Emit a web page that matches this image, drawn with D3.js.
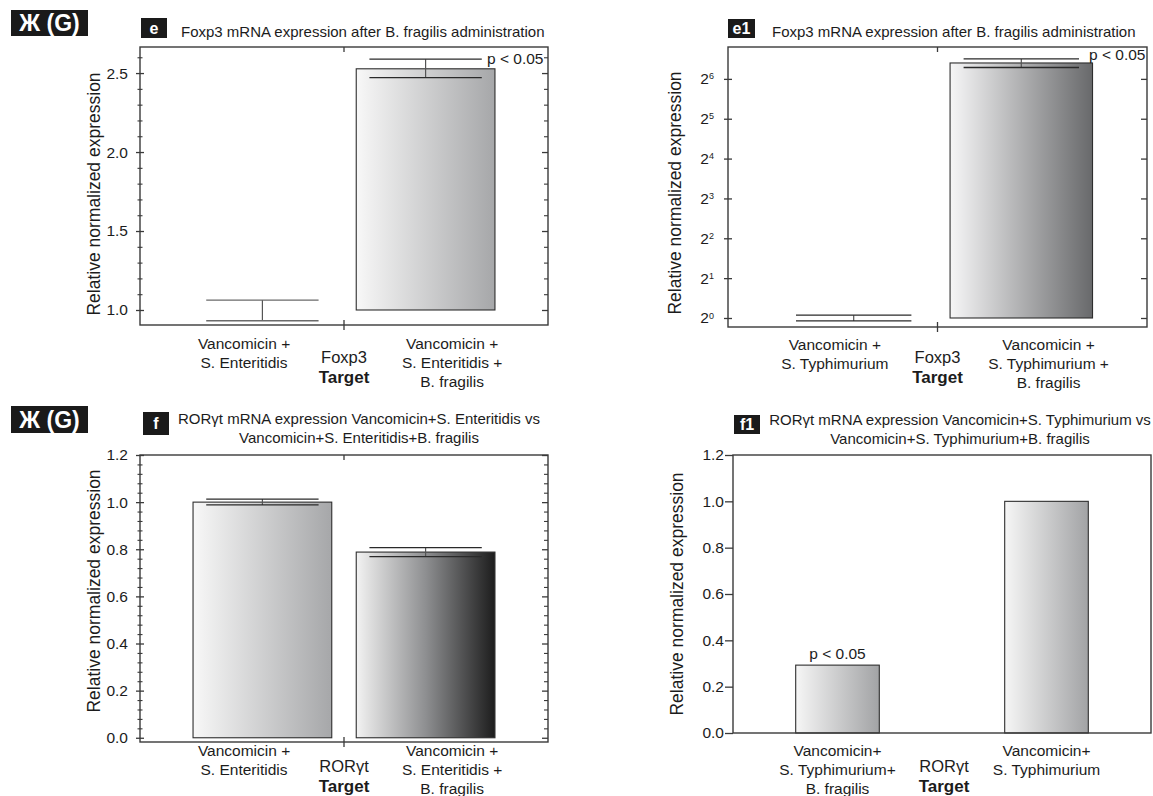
<!DOCTYPE html>
<html><head><meta charset="utf-8">
<script src="https://cdn.jsdelivr.net/npm/d3@7"></script>
<style>
body{margin:0;background:#fff}
svg{display:block;font-family:"Liberation Sans",Arial,Helvetica,sans-serif}
</style>
</head><body>
<svg id="chart" width="1153" height="796"></svg>
<script>
// ---------------- data ----------------
const eCategories = ["Vancomicin + S. Enteritidis", "Vancomicin + S. Enteritidis + B. fragilis"];
const eLabelLines = [["Vancomicin +", "S. Enteritidis"], ["Vancomicin +", "S. Enteritidis +", "B. fragilis"]];
const eValues = [1.0, 2.527];
const eErrLow = [0.932, 2.471];
const eErrHigh = [1.063, 2.588];
const eTicks = [1.0, 1.5, 2.0, 2.5];
const eTickLabels = ["1.0", "1.5", "2.0", "2.5"];
const eTitle = ["Foxp3 mRNA expression after B. fragilis administration"];

const e1Categories = ["Vancomicin + S. Typhimurium", "Vancomicin + S. Typhimurium + B. fragilis"];
const e1LabelLines = [["Vancomicin +", "S. Typhimurium"], ["Vancomicin +", "S. Typhimurium +", "B. fragilis"]];
const e1Values = [1.0, 84.4];
const e1ErrLow = [0.95, 78.0];
const e1ErrHigh = [1.05, 90.5];
const e1TickExponents = [0, 1, 2, 3, 4, 5, 6];
const e1Title = ["Foxp3 mRNA expression after B. fragilis administration"];

const fCategories = ["Vancomicin + S. Enteritidis", "Vancomicin + S. Enteritidis + B. fragilis"];
const fLabelLines = [["Vancomicin +", "S. Enteritidis"], ["Vancomicin +", "S. Enteritidis +", "B. fragilis"]];
const fValues = [1.0, 0.788];
const fErrLow = [0.988, 0.769];
const fErrHigh = [1.013, 0.807];
const fTicks = [0, 0.2, 0.4, 0.6, 0.8, 1.0, 1.2];
const fTickLabels = ["0.0", "0.2", "0.4", "0.6", "0.8", "1.0", "1.2"];
const fTitle = ["ROR\u03b3t mRNA expression Vancomicin+S. Enteritidis vs", "Vancomicin+S. Enteritidis+B. fragilis"];

const f1Categories = ["Vancomicin+ S. Typhimurium+ B. fragilis", "Vancomicin+ S. Typhimurium"];
const f1LabelLines = [["Vancomicin+", "S. Typhimurium+", "B. fragilis"], ["Vancomicin+", "S. Typhimurium"]];
const f1Values = [0.293, 1.0];
const f1Ticks = [0, 0.2, 0.4, 0.6, 0.8, 1.0, 1.2];
const f1TickLabels = ["0.0", "0.2", "0.4", "0.6", "0.8", "1.0", "1.2"];
const f1Title = ["ROR\u03b3t mRNA expression Vancomicin+S. Typhimurium vs", "Vancomicin+S. Typhimurium+B. fragilis"];

const yTitle = "Relative normalized expression";
const sigText = "p < 0.05";
// --------------------------------------

const svg = d3.select("#chart");
const defs = svg.append("defs");
const INK = "#1c1c1c", AX = "#3a3a3a";

function grad(id, stops) {
  const g = defs.append("linearGradient").attr("id", id).attr("x1", "0").attr("x2", "1").attr("y1", "0").attr("y2", "0");
  stops.forEach(s => g.append("stop").attr("offset", s[0]).attr("stop-color", s[1]));
}
grad("gLight", [[0, "#f8f8f8"], [0.08, "#f1f1f1"], [1, "#a6a7a9"]]);
grad("gE1", [[0, "#f6f6f6"], [0.08, "#ebebec"], [1, "#68696b"]]);
grad("gDark", [[0, "#f3f3f3"], [0.08, "#e2e2e2"], [0.5, "#8e8f91"], [1, "#1d1d1d"]]);
grad("gF1", [[0, "#f7f7f7"], [0.08, "#efefef"], [1, "#a2a3a5"]]);

function tagBox(x, y, w, h, txt, fs) {
  svg.append("rect").attr("x", x).attr("y", y).attr("width", w).attr("height", h).attr("fill", "#1a1a1a");
  svg.append("text").attr("x", x + w / 2).attr("y", y + h / 2).attr("dy", "0.36em")
    .attr("text-anchor", "middle").attr("fill", "#fff").attr("font-weight", "bold")
    .attr("font-size", fs).text(txt);
}

function panel(o) {
  const g = svg.append("g");
  const W = o.x1 - o.x0;
  const x = d3.scaleBand().domain(o.cats).range([o.x0, o.x1]).paddingInner(o.pi).paddingOuter(o.po);
  const y = o.y;
  const yb = y.range()[0], yt = y.range()[1];

  // bars
  o.cats.forEach((c, i) => {
    const top = y(o.values[i]), base = y(o.base);
    if (Math.abs(base - top) > 0.5) {
      g.append("rect").attr("x", x(c)).attr("y", top).attr("width", x.bandwidth()).attr("height", base - top)
        .attr("fill", "url(#" + o.fills[i] + ")").attr("stroke", "#2e2e2e").attr("stroke-width", 1.1);
    }
  });

  // error bars
  if (o.errLow) {
    o.cats.forEach((c, i) => {
      const cx = x(c) + x.bandwidth() / 2, hw = x.bandwidth() * 0.405;
      g.append("line").attr("x1", cx).attr("x2", cx).attr("y1", y(o.errHigh[i])).attr("y2", y(o.errLow[i]))
        .attr("stroke", "#555").attr("stroke-width", 1.2);
      [o.errHigh[i], o.errLow[i]].forEach(v => {
        g.append("line").attr("x1", cx - hw).attr("x2", cx + hw).attr("y1", y(v)).attr("y2", y(v))
          .attr("stroke", i === 0 && o.lightCaps ? "#6a6a6a" : "#2a2a2a").attr("stroke-width", 1.3);
      });
    });
  }

  // frame
  g.append("rect").attr("x", o.x0).attr("y", yt).attr("width", W).attr("height", yb - yt)
    .attr("fill", "none").attr("stroke", AX).attr("stroke-width", 1.4);

  // left axis
  const ax = d3.axisLeft(y).tickValues(o.ticks).tickSizeOuter(0).tickPadding(o.pad);
  if (o.tickLabels) ax.tickFormat((d, i) => o.tickLabels[i]);
  else ax.tickFormat(() => "");
  const ag = g.append("g").attr("transform", `translate(${o.x0},0)`).call(ax);
  ag.select(".domain").remove();
  ag.selectAll(".tick line").attr("x1", o.tickIn).attr("x2", -o.tickOut).attr("stroke", AX).attr("stroke-width", 1.3);
  ag.selectAll(".tick text").attr("font-size", 15.5).attr("fill", INK).attr("font-family", "Liberation Sans, Arial, sans-serif");
  if (o.supTicks) {
    ag.selectAll(".tick text").each(function (d, i) {
      const t = d3.select(this);
      t.append("tspan").text("2");
      t.append("tspan").attr("dy", "-0.55em").attr("font-size", 9).text(o.supTicks[i]);
    });
  }
  if (o.minor) {
    const am = d3.axisLeft(y).tickValues(o.minor).tickFormat("").tickSizeOuter(0);
    const mg = g.append("g").attr("transform", `translate(${o.x0},0)`).call(am);
    mg.select(".domain").remove();
    mg.selectAll(".tick line").attr("x1", 2.5).attr("x2", -2.5).attr("stroke", AX).attr("stroke-width", 1.1);
  }
  // right mirror ticks
  if (o.rightTicks) {
    const ar = d3.axisRight(y).tickValues(o.ticks).tickFormat("").tickSizeInner(-6).tickSizeOuter(0);
    const rg = g.append("g").attr("transform", `translate(${o.x1},0)`).call(ar);
    rg.select(".domain").remove();
    rg.selectAll(".tick line").attr("stroke", AX).attr("stroke-width", 1.3);
    if (o.minor) {
      const arm = d3.axisRight(y).tickValues(o.minor).tickFormat("").tickSizeInner(-4).tickSizeOuter(0);
      const rmg = g.append("g").attr("transform", `translate(${o.x1},0)`).call(arm);
      rmg.select(".domain").remove();
      rmg.selectAll(".tick line").attr("stroke", AX).attr("stroke-width", 1.1);
    }
  }
  // middle ticks
  if (o.midTick) {
    const mx = o.x0 + W / 2;
    g.append("line").attr("x1", mx).attr("x2", mx).attr("y1", yt).attr("y2", yt + 5).attr("stroke", AX).attr("stroke-width", 1.3);
    g.append("line").attr("x1", mx).attr("x2", mx).attr("y1", yb - 5).attr("y2", yb + 5).attr("stroke", AX).attr("stroke-width", 1.3);
  }

  // x labels
  const lp = o.labelAtBand
    ? (i) => x(o.cats[i]) + x.bandwidth() / 2
    : d3.scalePoint().domain(d3.range(o.cats.length)).range([o.x0 + 0.255 * W, o.x0 + 0.765 * W]);
  o.labelLines.forEach((lines, i) => {
    lines.forEach((ln, j) => {
      g.append("text").attr("x", lp(i)).attr("y", o.labY + j * 19).attr("dy", "0.36em")
        .attr("text-anchor", "middle").attr("font-size", 15.5).attr("fill", INK).text(ln);
    });
  });
  const cx = o.x0 + W / 2 + (o.geneDx || 0);
  g.append("text").attr("x", cx).attr("y", o.geneY).attr("dy", "0.36em").attr("text-anchor", "middle")
    .attr("font-size", 16.5).attr("fill", INK).text(o.gene);
  g.append("text").attr("x", cx).attr("y", o.geneY + 20).attr("dy", "0.36em").attr("text-anchor", "middle")
    .attr("font-size", 17).attr("font-weight", "bold").attr("fill", INK).text("Target");

  // y title
  g.append("text").attr("transform", `translate(${o.ytX},${o.ytY}) rotate(-90)`)
    .attr("text-anchor", "middle").attr("font-size", 17.5).attr("fill", INK).text(yTitle);

  // title
  o.title.forEach((t, j) => {
    g.append("text").attr("x", o.titleX).attr("y", o.titleY + j * 19).attr("text-anchor", o.titleAnchor)
      .attr("font-size", 15).attr("fill", INK).text(t);
  });

  // significance
  if (o.sig) o.sig(g, x, y);
  return { x, y };
}

// Panel e
panel({
  x0: 140, x1: 548, cats: eCategories, pi: 0.15, po: 0.325,
  y: d3.scaleLinear().domain([0.905, 2.665]).range([325, 47]),
  base: 1.0, values: eValues, errLow: eErrLow, errHigh: eErrHigh, fills: ["gLight", "gLight"], lightCaps: true,
  ticks: eTicks, tickLabels: eTickLabels, minor: [1.1, 1.2, 1.3, 1.4, 1.6, 1.7, 1.8, 1.9, 2.1, 2.2, 2.3, 2.4, 2.6],
  tickIn: 4, tickOut: 4, pad: 6, rightTicks: true, midTick: true,
  labelLines: eLabelLines, labY: 343, gene: "Foxp3", geneY: 357,
  ytX: 100, ytY: 194, title: eTitle, titleX: 181, titleY: 37, titleAnchor: "start",
  sig: (g, x, y) => {
    g.append("text").attr("x", 487).attr("y", y(eErrHigh[1])).attr("dy", "0.3em").attr("font-size", 15.5).attr("fill", INK).text(sigText);
  }
});

// Panel e1
panel({
  x0: 728, x1: 1147, cats: e1Categories, pi: 0.15, po: 0.325,
  y: d3.scaleLog().base(2).domain([Math.pow(2, -0.226), Math.pow(2, 6.8)]).range([327, 47]),
  base: 1, values: e1Values, errLow: e1ErrLow, errHigh: e1ErrHigh, fills: ["gLight", "gE1"],
  ticks: e1TickExponents.map(e => Math.pow(2, e)), supTicks: e1TickExponents,
  tickIn: 4, tickOut: 4, pad: 8, rightTicks: true, midTick: true,
  labelLines: e1LabelLines, labY: 344, gene: "Foxp3", geneY: 357,
  ytX: 681, ytY: 193, title: e1Title, titleX: 772, titleY: 37, titleAnchor: "start",
  sig: (g, x, y) => {
    g.append("text").attr("x", 1089).attr("y", 55).attr("dy", "0.3em").attr("font-size", 15.5).attr("fill", INK).text(sigText);
  }
});

// Panel f
panel({
  x0: 140, x1: 548, cats: fCategories, pi: 0.15, po: 0.325,
  y: d3.scaleLinear().domain([-0.018, 1.2]).range([742, 455]),
  base: 0, values: fValues, errLow: fErrLow, errHigh: fErrHigh, fills: ["gLight", "gDark"],
  ticks: fTicks, tickLabels: fTickLabels,
  minor: d3.range(1, 30).map(k => k * 0.04).filter(v => Math.abs(v / 0.2 - Math.round(v / 0.2)) > 0.01),
  tickIn: 4, tickOut: 4, pad: 6, rightTicks: true, midTick: true,
  labelLines: fLabelLines, labY: 750, gene: "ROR\u03b3t", geneY: 766,
  ytX: 100, ytY: 591, title: fTitle, titleX: 359, titleY: 424, titleAnchor: "middle"
});

// Panel f1
panel({
  x0: 733, x1: 1151, cats: f1Categories, pi: 0.6, po: 0.3,
  y: d3.scaleLinear().domain([0, 1.2]).range([733, 455]),
  base: 0, values: f1Values, fills: ["gF1", "gF1"],
  ticks: f1Ticks, tickLabels: f1TickLabels,
  tickIn: 0, tickOut: 8, pad: 3, rightTicks: false, midTick: false, labelAtBand: true,
  labelLines: f1LabelLines, labY: 750, gene: "ROR\u03b3t", geneY: 766, geneDx: 2,
  ytX: 683, ytY: 594, title: f1Title, titleX: 960, titleY: 425, titleAnchor: "middle",
  sig: (g, x, y) => {
    g.append("text").attr("x", x(f1Categories[0]) + x.bandwidth() / 2).attr("y", y(f1Values[0]) - 6)
      .attr("text-anchor", "middle").attr("font-size", 15.5).attr("fill", INK).text(sigText);
  }
});

// panel tags
tagBox(11, 10, 77, 26, "\u0416 (G)", 23);
tagBox(11, 406, 77, 27, "\u0416 (G)", 23);
tagBox(141, 18, 26, 20, "e", 16);
tagBox(728, 19, 27, 19, "e1", 16);
tagBox(143, 412, 26, 23, "f", 16);
tagBox(734, 415, 26, 19, "f1", 16);
</script>
</body></html>
